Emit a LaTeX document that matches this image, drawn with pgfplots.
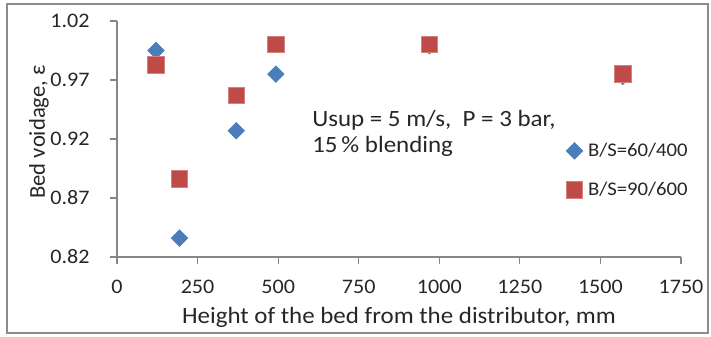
\documentclass[border=0pt]{standalone}
\usepackage{pgfplots}
\pgfplotsset{compat=1.18}
\usepackage{fontspec}
\setmainfont{Carlito}[FakeStretch=1.07]
\newfontfamily\plainfont{Carlito}
\definecolor{sblue}{HTML}{4A7EBB}
\definecolor{sred}{HTML}{BE4B48}
\definecolor{sredb}{HTML}{D9807D}
\definecolor{axgray}{HTML}{868686}
\definecolor{framegray}{HTML}{8C8C8C}
\definecolor{txt}{HTML}{262626}
\begin{document}
\begin{tikzpicture}
\useasboundingbox (-87.75pt,-59.25pt) rectangle (445.5pt,192.75pt);
\draw[framegray, line width=1pt] (-82.5pt,-57pt) rectangle (443.25pt,189.75pt);
\begin{axis}[
  at={(0pt,0pt)}, anchor=south west,
  scale only axis, width=423pt, height=177pt,
  xmin=0, xmax=1750, ymin=0.82, ymax=1.02,
  xtick={0,250,...,1750},
  ytick={0.82,0.87,0.92,0.97,1.02},
  axis x line*=bottom, axis y line*=left,
  axis line style={axgray, line width=0.8pt, -},
  tick style={axgray, line width=0.8pt},
  tick align=outside, major tick length=5pt,
  /pgf/number format/assume math mode=true,
  yticklabel style={/pgf/number format/.cd, fixed, fixed zerofill, precision=2, /tikz/.cd, xshift=-12pt},
  xticklabel style={/pgf/number format/.cd, 1000 sep={}, /tikz/.cd, yshift=-9pt},
  ticklabel style={font=\fontsize{15.5}{18}\selectfont, text=txt},
  xlabel={Height of the bed from the distributor, mm},
  ylabel={Bed voidage, ε},
  xlabel style={font=\fontsize{17.5}{21}\selectfont, text=txt,
    at={(axis description cs:0.5,0)}, anchor=base, yshift=-49.5pt},
  ylabel style={font=\plainfont\fontsize{17}{20}\selectfont, text=txt,
    at={(axis description cs:-0.128,0.53)}, anchor=base},
  clip=false,
  legend style={at={(axis description cs:0.796,0.486)}, anchor=north west, draw=none, fill=none,
    font=\fontsize{14.5}{18}\selectfont, text=txt, row sep=17pt, column sep=4pt, inner sep=0pt,
    nodes={inner sep=0pt, font=\fontsize{14.5}{18}\selectfont, text=txt}},
  legend cell align=left,
  legend image code/.code={\draw[#1] plot coordinates {(0pt,0pt)};},
]
\addplot[only marks, mark=square*, mark size=4.4pt, mark options={rotate=45, fill=sblue, draw=sblue}]
  coordinates {(121,0.995) (194,0.836) (370,0.927) (493,0.975) (969,0.999) (1569,0.973)};
\addlegendentry{B/S=60/400}
\addplot[only marks, mark=square*, mark size=6.2pt, mark options={fill=sred, draw=sredb, line width=0.6pt}]
  coordinates {(121,0.983) (194,0.886) (370,0.957) (493,1.000) (969,1.000) (1569,0.975)};
\addlegendentry{B/S=90/600}
\node[anchor=base west, text=txt, font=\fontsize{17.5}{21}\selectfont, inner sep=0pt] at (axis cs:605,0.9308) {Usup = 5 m/s,\ \ P = 3 bar,};
\node[anchor=base west, text=txt, font=\fontsize{17.5}{21}\selectfont, inner sep=0pt] at (axis cs:605,0.9087) {15\,\% blending};
\end{axis}
\end{tikzpicture}
\end{document}
